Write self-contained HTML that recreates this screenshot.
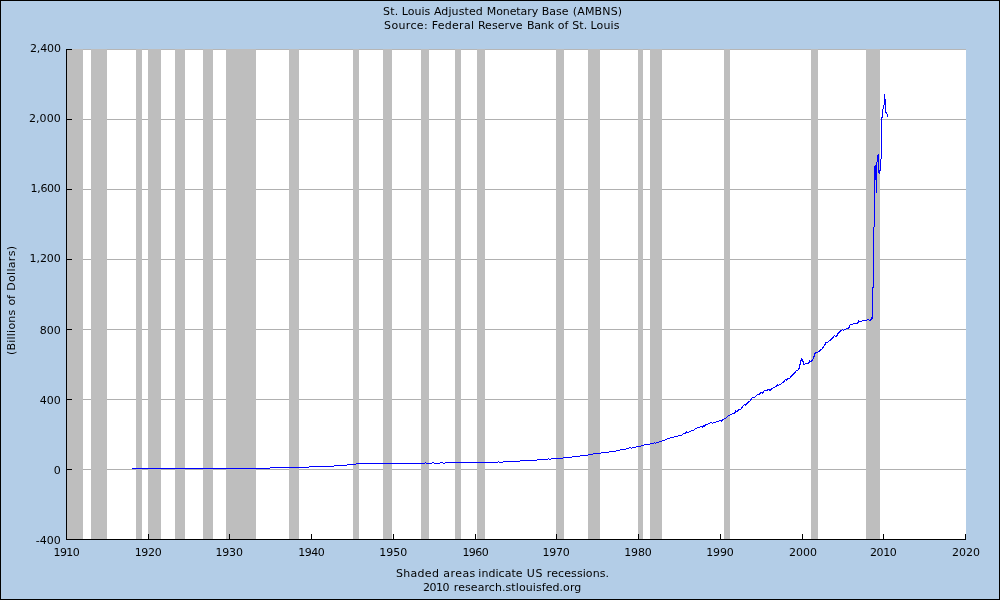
<!DOCTYPE html>
<html><head><meta charset="utf-8"><title>St. Louis Adjusted Monetary Base (AMBNS)</title>
<style>
html,body{margin:0;padding:0;background:#B3CDE7;overflow:hidden;}
svg{display:block;}
.t{font-family:"DejaVu Sans","Liberation Sans",sans-serif;font-size:11px;fill:#000;}
.txt{opacity:0.999;}
</style></head><body>
<svg width="1000" height="600" viewBox="0 0 1000 600">
<rect x="0" y="0" width="1000" height="600" fill="#B3CDE7"/>
<rect x="66" y="49" width="900" height="490" fill="#FFFFFF"/>
<rect x="66" y="49.0" width="900" height="1" fill="#B6B6B6"/>
<rect x="66" y="119.0" width="900" height="1" fill="#B0B0B0"/>
<rect x="66" y="189.0" width="900" height="1" fill="#B0B0B0"/>
<rect x="66" y="259.0" width="900" height="1" fill="#B0B0B0"/>
<rect x="66" y="329.0" width="900" height="1" fill="#B0B0B0"/>
<rect x="66" y="399.0" width="900" height="1" fill="#B0B0B0"/>
<rect x="66" y="469.0" width="900" height="1" fill="#B0B0B0"/>
<rect x="66" y="49" width="17.00" height="490" fill="#BEBEBE"/>
<rect x="91" y="49" width="16.00" height="490" fill="#BEBEBE"/>
<rect x="136" y="49" width="6.00" height="490" fill="#BEBEBE"/>
<rect x="148" y="49" width="13.00" height="490" fill="#BEBEBE"/>
<rect x="175" y="49" width="10.00" height="490" fill="#BEBEBE"/>
<rect x="203" y="49" width="10.00" height="490" fill="#BEBEBE"/>
<rect x="226" y="49" width="30.00" height="490" fill="#BEBEBE"/>
<rect x="289" y="49" width="10.00" height="490" fill="#BEBEBE"/>
<rect x="353" y="49" width="6.00" height="490" fill="#BEBEBE"/>
<rect x="383" y="49" width="9.00" height="490" fill="#BEBEBE"/>
<rect x="421" y="49" width="8.00" height="490" fill="#BEBEBE"/>
<rect x="455" y="49" width="6.00" height="490" fill="#BEBEBE"/>
<rect x="477" y="49" width="8.00" height="490" fill="#BEBEBE"/>
<rect x="556" y="49" width="8.00" height="490" fill="#BEBEBE"/>
<rect x="588" y="49" width="12.00" height="490" fill="#BEBEBE"/>
<rect x="638" y="49" width="5.00" height="490" fill="#BEBEBE"/>
<rect x="650" y="49" width="12.00" height="490" fill="#BEBEBE"/>
<rect x="724" y="49" width="6.00" height="490" fill="#BEBEBE"/>
<rect x="811" y="49" width="7.00" height="490" fill="#BEBEBE"/>
<rect x="866" y="49" width="14.00" height="490" fill="#BEBEBE"/>
<path d="M131.5,468.5 L269.5,468.5 L270.5,467.5 L308.5,467.5 L309.5,466.5 L333.5,466.5 L334.5,465.5 L346.5,465.5 L347.5,464.5 L355.5,464.5 L356.5,463.5 L424.5,463.5 L425.5,462.5 L426.5,463.5 L431.5,463.5 L432.5,462.5 L433.5,462.5 L434.5,463.5 L439.5,463.5 L440.5,462.5 L442.5,462.5 L443.5,463.5 L444.5,463.5 L445.5,462.5 L497.5,462.5 L498.5,461.5 L499.5,462.5 L502.5,462.5 L503.5,461.5 L519.5,461.5 L520.5,460.5 L536.5,460.5 L537.5,459.5 L547.5,459.5 L548.5,458.5 L549.5,459.5 L550.5,459.5 L551.5,458.5 L562.5,458.5 L563.5,457.5 L571.5,457.5 L572.5,456.5 L579.5,456.5 L580.5,455.5 L587.5,455.5 L588.5,454.5 L592.5,454.5 L593.5,453.5 L600.5,453.5 L601.5,452.5 L608.5,452.5 L609.5,451.5 L615.5,451.5 L616.5,450.5 L619.5,450.5 L620.5,449.5 L625.5,449.5 L626.5,448.5 L628.5,448.5 L629.5,447.5 L630.5,447.5 L631.5,448.5 L632.5,447.5 L635.5,447.5 L636.5,446.5 L640.5,446.5 L641.5,445.5 L643.5,445.5 L644.5,444.5 L649.5,444.5 L650.5,443.5 L653.5,443.5 L654.5,442.5 L655.5,443.5 L656.5,442.5 L658.5,442.5 L659.5,441.5 L661.5,441.5 L662.5,440.5 L664.5,440.5 L665.5,439.5 L666.5,439.5 L667.5,438.5 L669.5,438.5 L670.5,437.5 L673.5,437.5 L674.5,436.5 L677.5,436.5 L678.5,435.5 L681.5,435.5 L682.5,434.5 L683.5,433.5 L685.5,433.5 L685.5,432.5 L686.5,432.5 L686.5,431.5 L687.5,432.5 L688.5,432.5 L689.5,431.5 L690.5,431.5 L691.5,430.5 L693.5,430.5 L694.5,429.5 L695.5,428.5 L696.5,428.5 L697.5,427.5 L699.5,427.5 L700.5,426.5 L701.5,426.5 L702.5,427.5 L702.5,426.5 L703.5,426.5 L703.5,425.5 L704.5,426.5 L704.5,425.5 L705.5,425.5 L705.5,424.5 L707.5,424.5 L708.5,423.5 L709.5,423.5 L710.5,422.5 L711.5,422.5 L712.5,423.5 L713.5,422.5 L715.5,422.5 L716.5,421.5 L718.5,421.5 L719.5,420.5 L720.5,420.5 L721.5,421.5 L721.5,420.5 L722.5,420.5 L722.5,419.5 L723.5,419.5 L724.5,418.5 L725.5,418.5 L726.5,417.5 L727.5,416.5 L728.5,415.5 L729.5,415.5 L730.5,414.5 L731.5,414.5 L732.5,413.5 L734.5,413.5 L734.5,412.5 L735.5,412.5 L735.5,410.5 L736.5,411.5 L737.5,411.5 L737.5,410.5 L738.5,410.5 L738.5,409.5 L740.5,409.5 L741.5,408.5 L741.5,407.5 L742.5,407.5 L742.5,406.5 L743.5,405.5 L744.5,404.5 L745.5,405.5 L745.5,404.5 L746.5,404.5 L746.5,403.5 L747.5,403.5 L747.5,402.5 L748.5,402.5 L748.5,401.5 L749.5,401.5 L750.5,400.5 L750.5,399.5 L751.5,399.5 L751.5,398.5 L752.5,397.5 L754.5,397.5 L755.5,396.5 L756.5,395.5 L757.5,394.5 L759.5,394.5 L759.5,393.5 L760.5,393.5 L760.5,392.5 L761.5,392.5 L762.5,393.5 L762.5,392.5 L763.5,392.5 L763.5,391.5 L764.5,390.5 L767.5,390.5 L767.5,389.5 L768.5,389.5 L768.5,388.5 L768.5,389.5 L769.5,389.5 L769.5,390.5 L770.5,390.5 L770.5,389.5 L771.5,389.5 L771.5,388.5 L772.5,388.5 L773.5,387.5 L774.5,387.5 L775.5,386.5 L776.5,386.5 L776.5,385.5 L777.5,385.5 L777.5,384.5 L778.5,385.5 L779.5,384.5 L780.5,384.5 L781.5,383.5 L782.5,382.5 L783.5,382.5 L783.5,381.5 L784.5,381.5 L784.5,380.5 L785.5,379.5 L786.5,380.5 L786.5,379.5 L787.5,379.5 L787.5,378.5 L789.5,378.5 L790.5,377.5 L790.5,376.5 L791.5,376.5 L791.5,375.5 L792.5,375.5 L792.5,374.5 L793.5,374.5 L793.5,373.5 L794.5,373.5 L794.5,372.5 L795.5,372.5 L795.5,371.5 L796.5,370.5 L797.5,370.5 L798.5,369.5 L798.5,368.5 L799.5,368.5 L799.5,366.5 L799.5,364.5 L800.5,364.5 L800.5,362.5 L800.5,360.5 L801.5,360.5 L801.5,358.5 L802.5,359.5 L802.5,361.5 L803.5,361.5 L803.5,364.5 L804.5,364.5 L805.5,363.5 L808.5,363.5 L808.5,362.5 L809.5,362.5 L809.5,360.5 L810.5,361.5 L811.5,361.5 L811.5,360.5 L812.5,360.5 L812.5,359.5 L813.5,358.5 L813.5,356.5 L814.5,356.5 L814.5,354.5 L814.5,353.5 L815.5,353.5 L815.5,352.5 L816.5,352.5 L817.5,352.5 L818.5,351.5 L819.5,351.5 L819.5,350.5 L820.5,350.5 L820.5,349.5 L821.5,349.5 L822.5,348.5 L822.5,347.5 L823.5,347.5 L823.5,346.5 L824.5,345.5 L824.5,344.5 L825.5,344.5 L825.5,342.5 L826.5,342.5 L827.5,342.5 L828.5,341.5 L829.5,340.5 L830.5,340.5 L830.5,339.5 L831.5,339.5 L831.5,338.5 L832.5,338.5 L832.5,337.5 L833.5,337.5 L833.5,336.5 L834.5,335.5 L835.5,336.5 L836.5,336.5 L836.5,335.5 L837.5,335.5 L837.5,334.5 L837.5,333.5 L838.5,333.5 L838.5,332.5 L839.5,332.5 L839.5,331.5 L840.5,331.5 L840.5,330.5 L841.5,330.5 L842.5,329.5 L843.5,330.5 L844.5,329.5 L845.5,329.5 L846.5,328.5 L848.5,328.5 L848.5,327.5 L849.5,327.5 L849.5,325.5 L850.5,324.5 L852.5,324.5 L853.5,323.5 L857.5,323.5 L857.5,322.5 L858.5,322.5 L858.5,320.5 L859.5,321.5 L861.5,321.5 L862.5,320.5 L866.5,320.5 L867.5,319.5 L868.5,319.5 L869.5,320.5 L870.5,320.5 L870.5,319.5 L871.5,319.5 L871.5,317.5 L872.5,318.5 L872.5,288 L873.5,287.7 L874.5,169 L875.3,165 L875.5,179 L876.5,179.5 L876.5,192.7 L876.6,168 L877.4,156 L878.3,154.3 L878.5,172 L879.3,172.7 L880.3,169.7 L880.5,159.3 L881.5,158.7 L881.5,118.3 L882.3,117.3 L882.7,111.3 L883.7,105 L884.3,104.7 L884.3,94.3 L885,98.3 L885.7,112.3 L886.7,113.3 L887.3,114.3 L887.5,116.7" fill="none" stroke="#0000FF" stroke-width="1" shape-rendering="crispEdges"/>
<rect x="66" y="49" width="1" height="491" fill="#000"/>
<rect x="66" y="539" width="900" height="1" fill="#000"/>
<rect x="67" y="49.0" width="5" height="1" fill="#000"/>
<rect x="67" y="119.0" width="5" height="1" fill="#000"/>
<rect x="67" y="189.0" width="5" height="1" fill="#000"/>
<rect x="67" y="259.0" width="5" height="1" fill="#000"/>
<rect x="67" y="329.0" width="5" height="1" fill="#000"/>
<rect x="67" y="399.0" width="5" height="1" fill="#000"/>
<rect x="67" y="469.0" width="5" height="1" fill="#000"/>
<rect x="148" y="534" width="1" height="5" fill="#000"/>
<rect x="229" y="534" width="1" height="5" fill="#000"/>
<rect x="311" y="534" width="1" height="5" fill="#000"/>
<rect x="393" y="534" width="1" height="5" fill="#000"/>
<rect x="475" y="534" width="1" height="5" fill="#000"/>
<rect x="556" y="534" width="1" height="5" fill="#000"/>
<rect x="638" y="534" width="1" height="5" fill="#000"/>
<rect x="720" y="534" width="1" height="5" fill="#000"/>
<rect x="802" y="534" width="1" height="5" fill="#000"/>
<rect x="883" y="534" width="1" height="5" fill="#000"/>
<rect x="965" y="534" width="1" height="5" fill="#000"/>
<g class="txt"><text x="29.89" y="52" textLength="31.04" lengthAdjust="spacing" class="t">2,400</text>
<text x="28.99" y="122" textLength="31.74" lengthAdjust="spacing" class="t">2,000</text>
<text x="30.59" y="192" textLength="30.14" lengthAdjust="spacing" class="t">1,600</text>
<text x="29.59" y="262" textLength="31.14" lengthAdjust="spacing" class="t">1,200</text>
<text x="60.73" y="334" text-anchor="end" class="t">800</text>
<text x="60.73" y="404" text-anchor="end" class="t">400</text>
<text x="60.73" y="474" text-anchor="end" class="t">0</text>
<text x="60.73" y="544" text-anchor="end" class="t">-400</text>
<text x="53.59" y="556" textLength="26.14" lengthAdjust="spacing" class="t">1910</text>
<text x="134.69" y="556" textLength="27.04" lengthAdjust="spacing" class="t">1920</text>
<text x="215.39" y="556" textLength="27.54" lengthAdjust="spacing" class="t">1930</text>
<text x="298.19" y="556" textLength="26.54" lengthAdjust="spacing" class="t">1940</text>
<text x="379.19" y="556" textLength="28.04" lengthAdjust="spacing" class="t">1950</text>
<text x="462.39" y="556" textLength="26.44" lengthAdjust="spacing" class="t">1960</text>
<text x="542.39" y="556" textLength="27.34" lengthAdjust="spacing" class="t">1970</text>
<text x="624.29" y="556" textLength="27.44" lengthAdjust="spacing" class="t">1980</text>
<text x="706.19" y="556" textLength="27.54" lengthAdjust="spacing" class="t">1990</text>
<text x="788.99" y="556" textLength="27.94" lengthAdjust="spacing" class="t">2000</text>
<text x="869.99" y="556" textLength="26.74" lengthAdjust="spacing" class="t">2010</text>
<text x="951.89" y="556" textLength="28.04" lengthAdjust="spacing" class="t">2020</text>
<text y="15" class="t"><tspan x="382.97" textLength="15.31" lengthAdjust="spacing">St.</tspan> <tspan x="401.82" textLength="28.32" lengthAdjust="spacing">Louis</tspan> <tspan x="433.91" textLength="48.88" lengthAdjust="spacing">Adjusted</tspan> <tspan x="486.72" textLength="51.51" lengthAdjust="spacing">Monetary</tspan> <tspan x="541.82" textLength="26.77" lengthAdjust="spacing">Base</tspan> <tspan x="572.75" textLength="49.39" lengthAdjust="spacing">(AMBNS)</tspan></text>
<text y="29" class="t"><tspan x="384.07" textLength="43.61" lengthAdjust="spacing">Source:</tspan> <tspan x="431.72" textLength="42.31" lengthAdjust="spacing">Federal</tspan> <tspan x="477.92" textLength="44.57" lengthAdjust="spacing">Reserve</tspan> <tspan x="526.92" textLength="27.11" lengthAdjust="spacing">Bank</tspan> <tspan x="557.79">of</tspan> <tspan x="572.27" textLength="14.91" lengthAdjust="spacing">St.</tspan> <tspan x="590.42" textLength="29.12" lengthAdjust="spacing">Louis</tspan></text>
<text y="577" class="t"><tspan x="395.97" textLength="42.92" lengthAdjust="spacing">Shaded</tspan> <tspan x="443.34" textLength="32.00" lengthAdjust="spacing">areas</tspan> <tspan x="478.36" textLength="44.22" lengthAdjust="spacing">indicate</tspan> <tspan x="526.84" textLength="15.57" lengthAdjust="spacing">US</tspan> <tspan x="546.80" textLength="62.29" lengthAdjust="spacing">recessions.</tspan></text>
<text y="591" class="t"><tspan x="422.99" textLength="26.54" lengthAdjust="spacing">2010</tspan> <tspan x="453.80" textLength="127.50" lengthAdjust="spacing">research.stlouisfed.org</tspan></text>
<text transform="translate(15,0) rotate(-90)" y="0" class="t"><tspan x="-354.95" textLength="45.18" lengthAdjust="spacing">(Billions</tspan> <tspan x="-305.61" textLength="10.40" lengthAdjust="spacing">of</tspan> <tspan x="-290.78" textLength="44.72" lengthAdjust="spacing">Dollars)</tspan></text></g>
<rect x="0.5" y="0.5" width="999" height="599" fill="none" stroke="#000" stroke-width="1"/>
</svg>
</body></html>
